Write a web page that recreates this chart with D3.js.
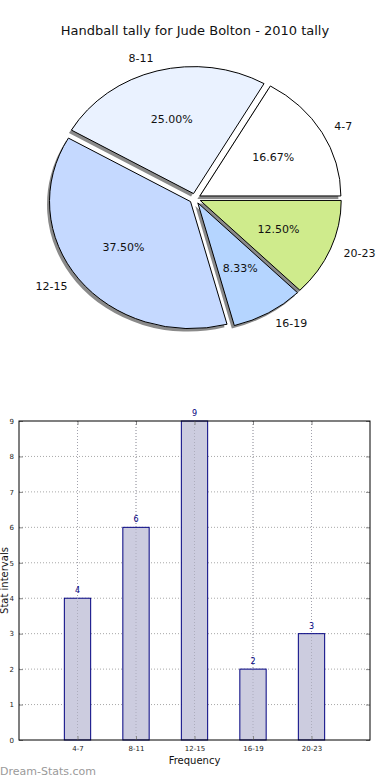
<!DOCTYPE html>
<html>
<head>
<meta charset="utf-8">
<script src="https://cdn.jsdelivr.net/npm/d3@7"></script>
<style>
body{margin:0;background:#fff}
text{font-family:"DejaVu Sans",sans-serif}
</style>
</head>
<body>
<div id="chart"></div>
<script>
const categories = ["4-7","8-11","12-15","16-19","20-23"]
const counts = [4,6,9,2,3]
const pieColors = ["#ffffff","#eaf2ff","#c5d9ff","#b5d5ff","#cfeb8c"]
const yTicks = [0,1,2,3,4,5,6,7,8,9]

const width = 390
const height = 780
const svg = d3.select('#chart').append('svg')
  .attr('width',width).attr('height',height)

svg.append('text')
  .text("Handball tally for Jude Bolton - 2010 tally")
  .attr('x',195).attr('y',35)
  .attr('text-anchor','middle')
  .attr('font-size',13)
  .attr('fill','#111')

// pie (matplotlib style: starts at 3 o'clock, counter clockwise, not equal aspect)
const cx = 195, cy = 198.5, rx = 141, ry = 127
const explode = 0.04
const total = d3.sum(counts)
const pie = d3.pie().sort(null).startAngle(Math.PI/2).endAngle(Math.PI/2 - 2*Math.PI)
const arcs = pie(counts)
const arc = d3.arc().innerRadius(0).outerRadius(1)
const dir = a => [Math.sin(a), -Math.cos(a)]
const mid = d => (d.startAngle + d.endAngle)/2

const pieG = svg.append('g')
const off = d => { const [ux,uy] = dir(mid(d)); return [cx + explode*ux*rx, cy + explode*uy*ry] }

pieG.selectAll('path.shadow')
  .data(arcs).enter().append('path')
  .attr('class','shadow')
  .attr('d',arc)
  .attr('transform',d=>{ const [ox,oy]=off(d); return `translate(${ox-2.5},${oy+3}) scale(${rx},${ry})` })
  .attr('fill','#8a8a8a')

pieG.selectAll('path.slice')
  .data(arcs).enter().append('path')
  .attr('class','slice')
  .attr('d',arc)
  .attr('transform',d=>{ const [ox,oy]=off(d); return `translate(${ox},${oy}) scale(${rx},${ry})` })
  .attr('fill',(d,i)=>pieColors[i])
  .attr('stroke','#000')
  .attr('stroke-width',1)
  .attr('vector-effect','non-scaling-stroke')

pieG.selectAll('text.lbl')
  .data(arcs).enter().append('text')
  .attr('class','lbl')
  .text((d,i)=>categories[i])
  .attr('x',d=>off(d)[0] + 1.1*dir(mid(d))[0]*rx)
  .attr('y',d=>off(d)[1] + 1.1*dir(mid(d))[1]*ry)
  .attr('text-anchor',d=>dir(mid(d))[0] > 0 ? 'start' : 'end')
  .attr('dominant-baseline','central')
  .attr('font-size',11)
  .attr('fill','#111')

pieG.selectAll('text.pct')
  .data(arcs).enter().append('text')
  .attr('class','pct')
  .text(d=>(d.value/total*100).toFixed(2)+'%')
  .attr('x',d=>off(d)[0] + 0.6*dir(mid(d))[0]*rx)
  .attr('y',d=>off(d)[1] + 0.6*dir(mid(d))[1]*ry)
  .attr('text-anchor','middle')
  .attr('dominant-baseline','central')
  .attr('font-size',11)
  .attr('fill','#111')

// bar chart
const plotLeft = 19, plotRight = 370, plotTop = 421, plotBottom = 740
const xScale = d3.scaleLinear().domain([0,categories.length+1]).range([plotLeft,plotRight])
const yScale = d3.scaleLinear().domain([0,9]).range([plotBottom,plotTop])
const barW = 0.45

const grid = svg.append('g')
grid.selectAll('line.h')
  .data(yTicks.slice(1,-1)).enter().append('line')
  .attr('x1',plotLeft).attr('x2',plotRight)
  .attr('y1',d=>yScale(d)).attr('y2',d=>yScale(d))
  .attr('stroke','#a8a8a8').attr('stroke-dasharray','1,2')
grid.selectAll('line.v')
  .data(categories).enter().append('line')
  .attr('x1',(d,i)=>xScale(i+1)).attr('x2',(d,i)=>xScale(i+1))
  .attr('y1',plotTop).attr('y2',plotBottom)
  .attr('stroke','#a8a8a8').attr('stroke-dasharray','1,2')

svg.append('g').selectAll('rect')
  .data(counts).enter().append('rect')
  .attr('x',(d,i)=>xScale(i+1-barW/2))
  .attr('y',d=>yScale(d))
  .attr('width',xScale(barW)-xScale(0))
  .attr('height',d=>plotBottom-yScale(d))
  .attr('fill','#ccccdf')
  .attr('stroke','#000080')
  .attr('stroke-width',1)

// grid lines again over bars (matplotlib draws them on top here)
svg.append('g').selectAll('line')
  .data(categories).enter().append('line')
  .attr('x1',(d,i)=>xScale(i+1)).attr('x2',(d,i)=>xScale(i+1))
  .attr('y1',plotTop).attr('y2',plotBottom)
  .attr('stroke','#a0a0b0').attr('stroke-dasharray','1,2').attr('opacity',0.7)

svg.append('g').selectAll('text')
  .data(counts).enter().append('text')
  .text(d=>d)
  .attr('x',(d,i)=>xScale(i+1))
  .attr('y',d=>yScale(d)-5)
  .attr('text-anchor','middle')
  .attr('font-size',8)
  .attr('fill','#000080')

const yAxis = d3.axisLeft(yScale).tickValues(yTicks).tickSize(-4).tickPadding(5).tickFormat(d3.format('d'))
const yAxisG = svg.append('g')
  .attr('transform',`translate(${plotLeft},0)`)
  .call(yAxis)
yAxisG.select('.domain').remove()
yAxisG.selectAll('text').attr('font-size',7).attr('fill','#222').attr('font-family','"DejaVu Sans",sans-serif')
yAxisG.selectAll('line').attr('stroke','#888')

const yAxisR = svg.append('g')
  .attr('transform',`translate(${plotRight},0)`)
  .call(d3.axisRight(yScale).tickValues(yTicks).tickSize(-4).tickFormat(''))
yAxisR.select('.domain').remove()
yAxisR.selectAll('line').attr('stroke','#888')

const xAxis = d3.axisBottom(xScale).tickValues(categories.map((d,i)=>i+1))
  .tickFormat((d,i)=>categories[i]).tickSize(-4).tickPadding(6)
const xAxisG = svg.append('g')
  .attr('transform',`translate(0,${plotBottom})`)
  .call(xAxis)
xAxisG.select('.domain').remove()
xAxisG.selectAll('text').attr('font-size',7).attr('fill','#222').attr('font-family','"DejaVu Sans",sans-serif')
xAxisG.selectAll('line').attr('stroke','#888')

const xAxisT = svg.append('g')
  .attr('transform',`translate(0,${plotTop})`)
  .call(d3.axisTop(xScale).tickValues(categories.map((d,i)=>i+1)).tickSize(-4).tickFormat(''))
xAxisT.select('.domain').remove()
xAxisT.selectAll('line').attr('stroke','#888')

svg.append('rect')
  .attr('x',plotLeft).attr('y',plotTop)
  .attr('width',plotRight-plotLeft).attr('height',plotBottom-plotTop)
  .attr('fill','none').attr('stroke','#000').attr('stroke-width',1)

svg.append('text')
  .text("Frequency")
  .attr('x',(plotLeft+plotRight)/2).attr('y',764)
  .attr('text-anchor','middle')
  .attr('font-size',10)
  .attr('fill','#111')

svg.append('text')
  .text("Stat intervals")
  .attr('transform',`translate(8,${(plotTop+plotBottom)/2}) rotate(-90)`)
  .attr('text-anchor','middle')
  .attr('font-size',10)
  .attr('fill','#111')

svg.append('text')
  .text("Dream-Stats.com")
  .attr('x',0).attr('y',775)
  .attr('font-size',11)
  .attr('fill','#9a9a9a')
</script>
</body>
</html>
